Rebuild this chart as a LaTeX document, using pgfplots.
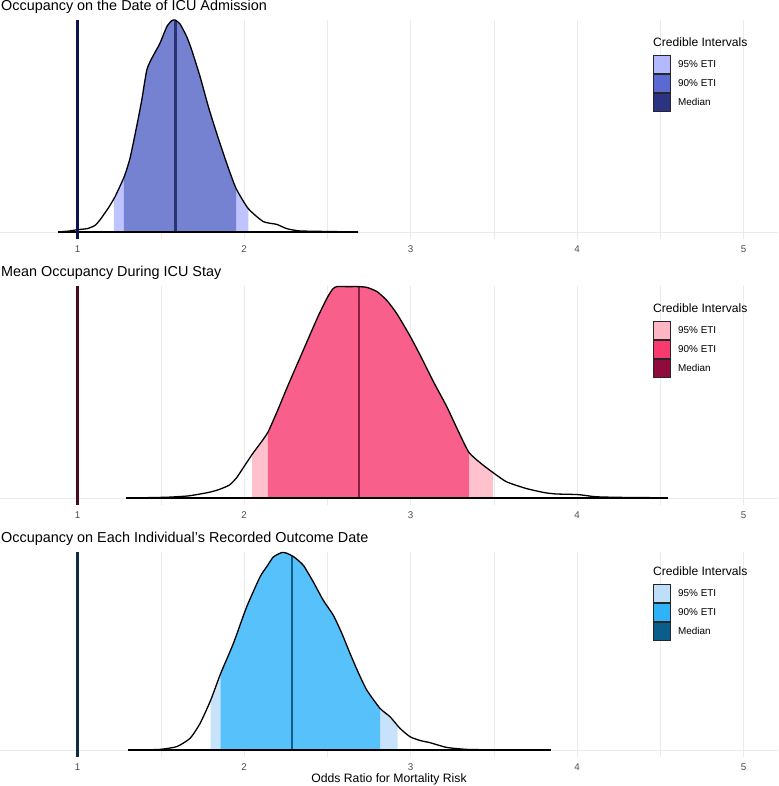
\documentclass[border=0pt]{standalone}
\usepackage{fontspec}
\setmainfont{Liberation Sans}
\usepackage{pgfplots}
\usepackage{pgfplotstable}
\pgfplotsset{compat=1.18}

\definecolor{gridc}{HTML}{EBEBEB}
\definecolor{tickc}{HTML}{4D4D4D}
% panel 1 (blue/purple)
\definecolor{pAa}{HTML}{BFC3FF}
\definecolor{pAb}{HTML}{7581D1}
\definecolor{pAm}{HTML}{2A3372}
\definecolor{pAv}{HTML}{0B1450}
\definecolor{lAa}{HTML}{B3B8FF}
\definecolor{lAb}{HTML}{5B69D3}
\definecolor{lAm}{HTML}{2B3480}
% panel 2 (pink)
\definecolor{pBa}{HTML}{FFC1CC}
\definecolor{pBb}{HTML}{F8608B}
\definecolor{pBm}{HTML}{8C1C45}
\definecolor{pBv}{HTML}{4A0A1E}
\definecolor{lBa}{HTML}{FFB6C4}
\definecolor{lBb}{HTML}{F93A6E}
\definecolor{lBm}{HTML}{8E0B3C}
% panel 3 (light blue)
\definecolor{pCa}{HTML}{C6E3FB}
\definecolor{pCb}{HTML}{57C1FB}
\definecolor{pCm}{HTML}{105F86}
\definecolor{pCv}{HTML}{0B2E44}
\definecolor{lCa}{HTML}{BEDFFA}
\definecolor{lCb}{HTML}{2EB3F8}
\definecolor{lCm}{HTML}{0B5E8C}

\pgfplotstableread{
x y
0.883 0
0.955 0.005
1.000 0.011
1.060 0.016
1.105 0.031
1.135 0.057
1.185 0.113
1.225 0.166
1.280 0.260
1.315 0.347
1.355 0.497
1.386 0.623
1.416 0.764
1.446 0.819
1.495 0.890
1.536 0.968
1.566 0.997
1.586 1.000
1.616 0.981
1.656 0.921
1.686 0.858
1.736 0.733
1.786 0.591
1.836 0.465
1.896 0.324
1.952 0.206
2.026 0.110
2.116 0.049
2.196 0.036
2.256 0.016
2.336 0.005
2.536 0.002
2.685 0
}\dA

\pgfplotstableread{
x y
1.294 0
1.450 0.002
1.550 0.004
1.667 0.010
1.786 0.026
1.850 0.040
1.912 0.061
1.955 0.095
1.995 0.142
2.049 0.206
2.100 0.260
2.144 0.311
2.200 0.410
2.263 0.529
2.352 0.690
2.442 0.852
2.500 0.945
2.532 0.985
2.556 0.997
2.620 0.997
2.690 0.997
2.740 0.993
2.800 0.973
2.860 0.930
2.919 0.868
3.000 0.760
3.068 0.658
3.140 0.545
3.217 0.432
3.290 0.310
3.351 0.215
3.420 0.165
3.485 0.126
3.575 0.077
3.694 0.045
3.800 0.026
3.873 0.019
4.006 0.016
4.111 0.006
4.250 0.003
4.410 0.002
4.544 0
}\dB

\pgfplotstableread{
x y
1.305 0
1.400 0.001
1.495 0.003
1.596 0.017
1.676 0.059
1.736 0.134
1.800 0.252
1.860 0.387
1.936 0.538
2.016 0.723
2.096 0.874
2.140 0.930
2.176 0.975
2.226 0.997
2.256 0.994
2.300 0.975
2.356 0.933
2.416 0.849
2.476 0.756
2.536 0.681
2.587 0.590
2.637 0.487
2.687 0.390
2.737 0.303
2.817 0.210
2.877 0.168
2.937 0.109
2.997 0.067
3.057 0.048
3.117 0.037
3.217 0.013
3.338 0.003
3.500 0.001
3.700 0.001
3.842 0
}\dC

\pgfplotsset{
  panel/.style={
    scale only axis, width=778pt, anchor=south west,
    xmin=0.5345, xmax=5.207, ymax=1,
    xtick={1,2,3,4,5}, minor xtick={1.5,2.5,3.5,4.5},
    ytick={0}, yticklabels={},
    xmajorgrids, xminorgrids, ymajorgrids,
    major grid style={color=gridc, line width=0.7pt},
    minor grid style={color=gridc, line width=0.5pt},
    axis line style={draw=none},
    major tick length=0pt, minor tick length=0pt,
    tick style={draw=none},
    xticklabel style={font=\fontsize{9.8}{10}\selectfont, text=tickc, yshift=-3pt},
    /pgf/number format/assume math mode=true,
  },
  dens/.style={smooth, tension=0.35},
}

\newcommand{\mylegend}[4]{%
  \begin{scope}[shift={(0pt,#1)}]
    \node[anchor=base west, inner sep=0pt, font=\fontsize{12.1}{14}\selectfont] at (653pt,-27pt) {Credible Intervals};
    \filldraw[fill=#2, draw=black!85, line width=0.7pt] (653.5pt,-35pt) rectangle (670.5pt,-53.3pt);
    \filldraw[fill=#3, draw=black!85, line width=0.7pt] (653.5pt,-54pt) rectangle (670.5pt,-72.3pt);
    \filldraw[fill=#4, draw=black!85, line width=0.7pt] (653.5pt,-73pt) rectangle (670.5pt,-91.3pt);
    \node[anchor=base west, inner sep=0pt, font=\fontsize{9.9}{12}\selectfont] at (678pt,-48pt) {95\% ETI};
    \node[anchor=base west, inner sep=0pt, font=\fontsize{9.9}{12}\selectfont] at (678pt,-67pt) {90\% ETI};
    \node[anchor=base west, inner sep=0pt, font=\fontsize{9.9}{12}\selectfont] at (678pt,-86pt) {Median};
  \end{scope}
}

\begin{document}
\begin{tikzpicture}
\useasboundingbox (0pt,0pt) rectangle (778pt,786pt);

% ---------- Panel 1 ----------
\begin{axis}[panel, at={(0pt,547pt)}, height=219pt, ymin=-0.033]
  \begin{scope}
    \clip (axis cs:1.219,-0.03) rectangle (axis cs:2.026,1.0);
    \addplot[fill=pAa, draw=none, dens] table[x=x,y=y] {\dA};
  \end{scope}
  \begin{scope}
    \clip (axis cs:1.279,-0.03) rectangle (axis cs:1.952,1.0);
    \addplot[fill=pAb, draw=none, dens] table[x=x,y=y] {\dA};
  \end{scope}
  \addplot[pAm, line width=2.6pt] coordinates {(1.59,0) (1.59,0.996)};
  \addplot[black, line width=1.3pt, dens] table[x=x,y=y] {\dA};
  \addplot[black, line width=1.3pt] coordinates {(0.883,0) (2.685,0)};
  \addplot[pAv, line width=2.2pt] coordinates {(1,-0.033) (1,1)};
\end{axis}

% ---------- Panel 2 ----------
\begin{axis}[panel, at={(0pt,281pt)}, height=219pt, ymin=-0.033]
  \begin{scope}
    \clip (axis cs:2.049,-0.03) rectangle (axis cs:3.494,1.0);
    \addplot[fill=pBa, draw=none, dens] table[x=x,y=y] {\dB};
  \end{scope}
  \begin{scope}
    \clip (axis cs:2.144,-0.03) rectangle (axis cs:3.351,1.0);
    \addplot[fill=pBb, draw=none, dens] table[x=x,y=y] {\dB};
  \end{scope}
  \addplot[pBm, line width=2.6pt] coordinates {(2.69,0) (2.69,0.995)};
  \addplot[black, line width=1.3pt, dens] table[x=x,y=y] {\dB};
  \addplot[black, line width=1.3pt] coordinates {(1.294,0) (4.544,0)};
  \addplot[pBv, line width=2.2pt] coordinates {(1,-0.033) (1,1)};
\end{axis}

% ---------- Panel 3 ----------
\begin{axis}[panel, at={(0pt,29pt)}, height=205pt, ymin=-0.0354]
  \begin{scope}
    \clip (axis cs:1.80,-0.03) rectangle (axis cs:2.923,1.0);
    \addplot[fill=pCa, draw=none, dens] table[x=x,y=y] {\dC};
  \end{scope}
  \begin{scope}
    \clip (axis cs:1.86,-0.03) rectangle (axis cs:2.817,1.0);
    \addplot[fill=pCb, draw=none, dens] table[x=x,y=y] {\dC};
  \end{scope}
  \addplot[pCm, line width=2.6pt] coordinates {(2.288,0) (2.288,0.982)};
  \addplot[black, line width=1.3pt, dens] table[x=x,y=y] {\dC};
  \addplot[black, line width=1.3pt] coordinates {(1.305,0) (3.842,0)};
  \addplot[pCv, line width=2.2pt] coordinates {(1,-0.0354) (1,1)};
\end{axis}

% titles
\node[anchor=base west, inner sep=0pt, font=\fontsize{14.4}{16}\selectfont] at (1pt,775pt) {Occupancy on the Date of ICU Admission};
\node[anchor=base west, inner sep=0pt, font=\fontsize{14.4}{16}\selectfont] at (1pt,509pt) {Mean Occupancy During ICU Stay};
\node[anchor=base west, inner sep=0pt, font=\fontsize{14.4}{16}\selectfont] at (1pt,243pt) {Occupancy on Each Individual's Recorded Outcome Date};

% x label
\node[anchor=base, inner sep=0pt, font=\fontsize{12.2}{14}\selectfont] at (389pt,3pt) {Odds Ratio for Mortality Risk};

% legends
\mylegend{766pt}{lAa}{lAb}{lAm}
\mylegend{500pt}{lBa}{lBb}{lBm}
\mylegend{237pt}{lCa}{lCb}{lCm}
\end{tikzpicture}
\end{document}
